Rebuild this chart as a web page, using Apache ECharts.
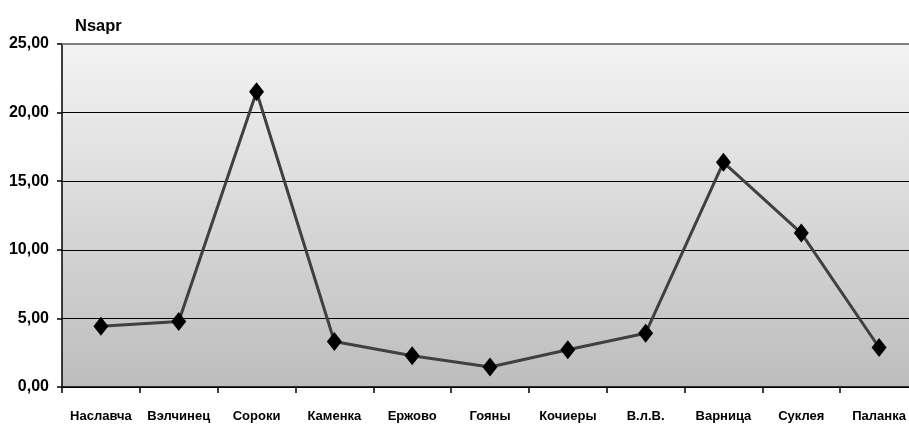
<!DOCTYPE html>
<html>
<head>
<meta charset="utf-8">
<script src="https://cdn.jsdelivr.net/npm/echarts@6/dist/echarts.min.js"></script>
<style>
  html, body { margin: 0; padding: 0; background: #ffffff; overflow: hidden; width: 909px; height: 426px; }
  /* the plot runs slightly past the right edge of the page */
  #chart { width: 918px; height: 426px; }
</style>
</head>
<body>
<div id="chart"></div>
<script>
// Sampling stations along the river
const stations = ['Наславча', 'Вэлчинец', 'Сороки', 'Каменка', 'Ержово', 'Гояны', 'Кочиеры', 'В.л.В.', 'Варница', 'Суклея', 'Паланка'];
// Nsapr values per station
const nsapr = [4.42, 4.78, 21.52, 3.32, 2.28, 1.46, 2.72, 3.92, 16.38, 11.22, 2.88];
// Value axis range
const yMin = 0, yMax = 25, yStep = 5;

const FONT = "'Liberation Sans', Arial, sans-serif";

const chart = echarts.init(document.getElementById('chart'), null, { renderer: 'canvas' });
chart.setOption({
  animation: false,
  title: {
    text: 'Nsapr',
    left: 70, top: 13,
    textStyle: { fontFamily: FONT, fontWeight: 'bold', fontSize: 16.5, color: '#000' }
  },
  grid: {
    left: 62, top: 44, right: 0, bottom: 39,
    show: true, borderWidth: 0,
    backgroundColor: {
      type: 'linear', x: 0, y: 0, x2: 0, y2: 1,
      colorStops: [{ offset: 0, color: '#f3f3f3' }, { offset: 1, color: '#bdbdbd' }]
    }
  },
  xAxis: {
    type: 'category',
    data: stations,
    boundaryGap: true,
    axisLine: { lineStyle: { color: '#000', width: 1.5 } },
    axisTick: { show: true, length: 6, lineStyle: { color: '#000', width: 1.5 } },
    axisLabel: { margin: 23, fontFamily: FONT, fontWeight: 'bold', fontSize: 13, color: '#000', interval: 0 },
    splitLine: { show: false }
  },
  yAxis: {
    type: 'value',
    min: yMin, max: yMax, interval: yStep,
    axisLine: { show: true, lineStyle: { color: '#000', width: 1.5 } },
    axisTick: { show: true, length: 5, lineStyle: { color: '#000', width: 1.5 } },
    axisLabel: {
      margin: 13, fontFamily: FONT, fontWeight: 'bold', fontSize: 16, color: '#000',
      formatter: v => v.toFixed(2).replace('.', ',')
    },
    splitLine: { show: true, lineStyle: { color: '#000', width: 1 } }
  },
  series: [{
    type: 'line',
    data: nsapr,
    lineStyle: { color: '#404040', width: 3 },
    itemStyle: { color: '#000' },
    symbol: 'diamond',
    symbolSize: [15, 19],
    showAllSymbol: true,
    z: 5,
    markLine: {
      silent: true,
      symbol: 'none',
      label: { show: false },
      lineStyle: { color: '#808080', width: 2, type: 'solid' },
      data: [{ yAxis: yMax }]
    }
  }]
});
</script>
</body>
</html>
